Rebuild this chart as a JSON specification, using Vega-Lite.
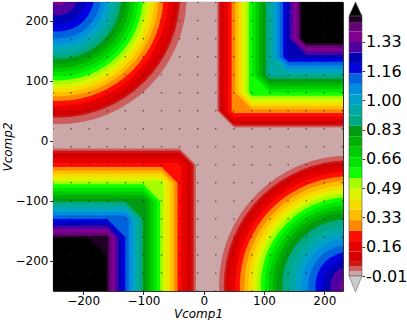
{
"$schema": "https://vega.github.io/schema/vega-lite/v6.json",
"padding": 0,
"spacing": 3,
"config": {"font": "DejaVu Sans", "view": {"stroke": null}, "axis": {"grid": false, "domain": false, "tickColor": "#000", "labelColor": "#000", "titleColor": "#000", "tickSize": 3.5, "tickWidth": 0.8, "labelFlush": false, "labelOverlap": false}, "axisY": {"labelOverlap": false}, "axisRight": {"labelOverlap": false}},
"datasets": {
"bg": [{"x": -250, "x2": 231, "y": -250, "y2": 231, "v": 0.0035}],
"q1": [
{"id":10,"v":0.03,"x":22.3,"y":50},{"id":10,"v":0.03,"x":50,"y":22.3},{"id":10,"v":0.03,"x":231,"y":22.3},
{"id":11,"v":0.057,"x":25.1,"y":50},{"id":11,"v":0.057,"x":50,"y":25.1},{"id":11,"v":0.057,"x":231,"y":25.1},
{"id":12,"v":0.10,"x":27.8,"y":50},{"id":12,"v":0.10,"x":50,"y":27.8},{"id":12,"v":0.10,"x":231,"y":27.8},
{"id":13,"v":0.16,"x":33.9,"y":50},{"id":13,"v":0.16,"x":50,"y":33.9},{"id":13,"v":0.16,"x":231,"y":33.9},
{"id":14,"v":0.22,"x":40.1,"y":50},{"id":14,"v":0.22,"x":50,"y":40.1},{"id":14,"v":0.22,"x":231,"y":40.1},
{"id":15,"v":0.28,"x":46.3,"y":50},{"id":15,"v":0.28,"x":50,"y":46.3},{"id":15,"v":0.28,"x":231,"y":46.3},
{"id":16,"v":0.34,"x":52.3,"y":80},{"id":16,"v":0.34,"x":80,"y":52.3},{"id":16,"v":0.34,"x":231,"y":52.3},
{"id":17,"v":0.40,"x":57.9,"y":80},{"id":17,"v":0.40,"x":80,"y":57.9},{"id":17,"v":0.40,"x":231,"y":57.9},
{"id":18,"v":0.46,"x":63.6,"y":80},{"id":18,"v":0.46,"x":80,"y":63.6},{"id":18,"v":0.46,"x":231,"y":63.6},
{"id":19,"v":0.52,"x":69.2,"y":80},{"id":19,"v":0.52,"x":80,"y":69.2},{"id":19,"v":0.52,"x":231,"y":69.2},
{"id":20,"v":0.58,"x":74.9,"y":80},{"id":20,"v":0.58,"x":80,"y":74.9},{"id":20,"v":0.58,"x":231,"y":74.9},
{"id":21,"v":0.64,"x":80.6,"y":110},{"id":21,"v":0.64,"x":110,"y":80.6},{"id":21,"v":0.64,"x":231,"y":80.6},
{"id":22,"v":0.70,"x":86.2,"y":110},{"id":22,"v":0.70,"x":110,"y":86.2},{"id":22,"v":0.70,"x":231,"y":86.2},
{"id":23,"v":0.76,"x":91.9,"y":110},{"id":23,"v":0.76,"x":110,"y":91.9},{"id":23,"v":0.76,"x":231,"y":91.9},
{"id":24,"v":0.82,"x":97.5,"y":110},{"id":24,"v":0.82,"x":110,"y":97.5},{"id":24,"v":0.82,"x":231,"y":97.5},
{"id":25,"v":0.88,"x":103.2,"y":110},{"id":25,"v":0.88,"x":110,"y":103.2},{"id":25,"v":0.88,"x":231,"y":103.2},
{"id":26,"v":0.94,"x":108.9,"y":110},{"id":26,"v":0.94,"x":110,"y":108.9},{"id":26,"v":0.94,"x":231,"y":108.9},
{"id":27,"v":1.00,"x":114.5,"y":140},{"id":27,"v":1.00,"x":140,"y":114.5},{"id":27,"v":1.00,"x":231,"y":114.5},
{"id":28,"v":1.06,"x":120.2,"y":140},{"id":28,"v":1.06,"x":140,"y":120.2},{"id":28,"v":1.06,"x":231,"y":120.2},
{"id":29,"v":1.12,"x":125.8,"y":140},{"id":29,"v":1.12,"x":140,"y":125.8},{"id":29,"v":1.12,"x":231,"y":125.8},
{"id":30,"v":1.18,"x":131.5,"y":140},{"id":30,"v":1.18,"x":140,"y":131.5},{"id":30,"v":1.18,"x":231,"y":131.5},
{"id":31,"v":1.24,"x":137.2,"y":140},{"id":31,"v":1.24,"x":140,"y":137.2},{"id":31,"v":1.24,"x":231,"y":137.2},
{"id":32,"v":1.30,"x":142.8,"y":170},{"id":32,"v":1.30,"x":170,"y":142.8},{"id":32,"v":1.30,"x":231,"y":142.8},
{"id":33,"v":1.36,"x":148.5,"y":170},{"id":33,"v":1.36,"x":170,"y":148.5},{"id":33,"v":1.36,"x":231,"y":148.5},
{"id":34,"v":1.415,"x":154.2,"y":170},{"id":34,"v":1.415,"x":170,"y":154.2},{"id":34,"v":1.415,"x":231,"y":154.2},
{"id":35,"v":1.46,"x":158.9,"y":170},{"id":35,"v":1.46,"x":170,"y":158.9},{"id":35,"v":1.46,"x":231,"y":158.9},
{"id":36,"v":1.5,"x":162.6,"y":170},{"id":36,"v":1.5,"x":170,"y":162.6},{"id":36,"v":1.5,"x":231,"y":162.6}
],
"q3": [
{"id":10,"v":0.03,"x":-250,"y":-13},{"id":10,"v":0.03,"x":-40,"y":-13},{"id":10,"v":0.03,"x":-13,"y":-40},
{"id":11,"v":0.057,"x":-250,"y":-16.7},{"id":11,"v":0.057,"x":-40,"y":-16.7},{"id":11,"v":0.057,"x":-16.7,"y":-40},
{"id":12,"v":0.10,"x":-250,"y":-20.5},{"id":12,"v":0.10,"x":-40,"y":-20.5},{"id":12,"v":0.10,"x":-20.5,"y":-40},
{"id":13,"v":0.16,"x":-250,"y":-28.6},{"id":13,"v":0.16,"x":-40,"y":-28.6},{"id":13,"v":0.16,"x":-28.6,"y":-40},
{"id":14,"v":0.22,"x":-250,"y":-36.8},{"id":14,"v":0.22,"x":-40,"y":-36.8},{"id":14,"v":0.22,"x":-36.8,"y":-40},
{"id":15,"v":0.28,"x":-250,"y":-43.6},{"id":15,"v":0.28,"x":-70,"y":-43.6},{"id":15,"v":0.28,"x":-43.6,"y":-70},
{"id":16,"v":0.34,"x":-250,"y":-49.3},{"id":16,"v":0.34,"x":-70,"y":-49.3},{"id":16,"v":0.34,"x":-49.3,"y":-70},
{"id":17,"v":0.40,"x":-250,"y":-55.1},{"id":17,"v":0.40,"x":-70,"y":-55.1},{"id":17,"v":0.40,"x":-55.1,"y":-70},
{"id":18,"v":0.46,"x":-250,"y":-60.9},{"id":18,"v":0.46,"x":-70,"y":-60.9},{"id":18,"v":0.46,"x":-60.9,"y":-70},
{"id":19,"v":0.52,"x":-250,"y":-66.6},{"id":19,"v":0.52,"x":-70,"y":-66.6},{"id":19,"v":0.52,"x":-66.6,"y":-70},
{"id":20,"v":0.58,"x":-250,"y":-72.4},{"id":20,"v":0.58,"x":-100,"y":-72.4},{"id":20,"v":0.58,"x":-72.4,"y":-100},
{"id":21,"v":0.64,"x":-250,"y":-78.2},{"id":21,"v":0.64,"x":-100,"y":-78.2},{"id":21,"v":0.64,"x":-78.2,"y":-100},
{"id":22,"v":0.70,"x":-250,"y":-83.9},{"id":22,"v":0.70,"x":-100,"y":-83.9},{"id":22,"v":0.70,"x":-83.9,"y":-100},
{"id":23,"v":0.76,"x":-250,"y":-89.7},{"id":23,"v":0.76,"x":-100,"y":-89.7},{"id":23,"v":0.76,"x":-89.7,"y":-100},
{"id":24,"v":0.82,"x":-250,"y":-95.5},{"id":24,"v":0.82,"x":-100,"y":-95.5},{"id":24,"v":0.82,"x":-95.5,"y":-100},
{"id":25,"v":0.88,"x":-250,"y":-101.3},{"id":25,"v":0.88,"x":-130,"y":-101.3},{"id":25,"v":0.88,"x":-101.3,"y":-130},
{"id":26,"v":0.94,"x":-250,"y":-107},{"id":26,"v":0.94,"x":-130,"y":-107},{"id":26,"v":0.94,"x":-107,"y":-130},
{"id":27,"v":1.00,"x":-250,"y":-112.8},{"id":27,"v":1.00,"x":-130,"y":-112.8},{"id":27,"v":1.00,"x":-112.8,"y":-130},
{"id":28,"v":1.06,"x":-250,"y":-118.6},{"id":28,"v":1.06,"x":-130,"y":-118.6},{"id":28,"v":1.06,"x":-118.6,"y":-130},
{"id":29,"v":1.12,"x":-250,"y":-124.3},{"id":29,"v":1.12,"x":-130,"y":-124.3},{"id":29,"v":1.12,"x":-124.3,"y":-130},
{"id":30,"v":1.18,"x":-250,"y":-130.1},{"id":30,"v":1.18,"x":-160,"y":-130.1},{"id":30,"v":1.18,"x":-130.1,"y":-160},
{"id":31,"v":1.24,"x":-250,"y":-135.9},{"id":31,"v":1.24,"x":-160,"y":-135.9},{"id":31,"v":1.24,"x":-135.9,"y":-160},
{"id":32,"v":1.30,"x":-250,"y":-141.6},{"id":32,"v":1.30,"x":-160,"y":-141.6},{"id":32,"v":1.30,"x":-141.6,"y":-160},
{"id":33,"v":1.36,"x":-250,"y":-147.4},{"id":33,"v":1.36,"x":-160,"y":-147.4},{"id":33,"v":1.36,"x":-147.4,"y":-160},
{"id":34,"v":1.415,"x":-250,"y":-153.2},{"id":34,"v":1.415,"x":-160,"y":-153.2},{"id":34,"v":1.415,"x":-153.2,"y":-160},
{"id":35,"v":1.46,"x":-250,"y":-158},{"id":35,"v":1.46,"x":-160,"y":-158},{"id":35,"v":1.46,"x":-158,"y":-160},
{"id":36,"v":1.5,"x":-250,"y":-161.8},{"id":36,"v":1.5,"x":-190,"y":-161.8},{"id":36,"v":1.5,"x":-161.8,"y":-190}
],
"arcs": [
{"cx":-241,"cy":241,"r":213,"v":0.03},{"cx":-241,"cy":241,"r":202,"v":0.057},{"cx":-241,"cy":241,"r":198.4,"v":0.10},{"cx":-241,"cy":241,"r":190.4,"v":0.16},{"cx":-241,"cy":241,"r":182.4,"v":0.22},{"cx":-241,"cy":241,"r":174.3,"v":0.28},{"cx":-241,"cy":241,"r":166.6,"v":0.34},{"cx":-241,"cy":241,"r":160.1,"v":0.40},{"cx":-241,"cy":241,"r":153.6,"v":0.46},{"cx":-241,"cy":241,"r":147.2,"v":0.52},{"cx":-241,"cy":241,"r":140.3,"v":0.58},{"cx":-241,"cy":241,"r":133.3,"v":0.64},{"cx":-241,"cy":241,"r":126.3,"v":0.70},{"cx":-241,"cy":241,"r":119.3,"v":0.76},{"cx":-241,"cy":241,"r":112.3,"v":0.82},{"cx":-241,"cy":241,"r":104.4,"v":0.88},{"cx":-241,"cy":241,"r":96,"v":0.94},{"cx":-241,"cy":241,"r":87.6,"v":1.00},{"cx":-241,"cy":241,"r":79.2,"v":1.06},{"cx":-241,"cy":241,"r":70.8,"v":1.12},{"cx":-241,"cy":241,"r":59.1,"v":1.18},{"cx":-241,"cy":241,"r":45.8,"v":1.24},{"cx":-241,"cy":241,"r":32.4,"v":1.30},{"cx":-241,"cy":241,"r":15.6,"v":1.36},
{"cx":241,"cy":-241,"r":216,"v":0.03},{"cx":241,"cy":-241,"r":208,"v":0.057},{"cx":241,"cy":-241,"r":204.5,"v":0.10},{"cx":241,"cy":-241,"r":196.9,"v":0.16},{"cx":241,"cy":-241,"r":189.2,"v":0.22},{"cx":241,"cy":-241,"r":181.4,"v":0.28},{"cx":241,"cy":-241,"r":173.9,"v":0.34},{"cx":241,"cy":-241,"r":167,"v":0.40},{"cx":241,"cy":-241,"r":160.1,"v":0.46},{"cx":241,"cy":-241,"r":153.3,"v":0.52},{"cx":241,"cy":-241,"r":146.6,"v":0.58},{"cx":241,"cy":-241,"r":140,"v":0.64},{"cx":241,"cy":-241,"r":133.4,"v":0.70},{"cx":241,"cy":-241,"r":126.8,"v":0.76},{"cx":241,"cy":-241,"r":120.2,"v":0.82},{"cx":241,"cy":-241,"r":110.8,"v":0.88},{"cx":241,"cy":-241,"r":100,"v":0.94},{"cx":241,"cy":-241,"r":89.2,"v":1.00},{"cx":241,"cy":-241,"r":78.4,"v":1.06},{"cx":241,"cy":-241,"r":67.6,"v":1.12},{"cx":241,"cy":-241,"r":55.8,"v":1.18},{"cx":241,"cy":-241,"r":43.5,"v":1.24},{"cx":241,"cy":-241,"r":31.1,"v":1.30},{"cx":241,"cy":-241,"r":15,"v":1.36}
],
"dots": [
{"gx":-250,"gy":-250},{"gx":-220,"gy":-250},{"gx":-190,"gy":-250},{"gx":-160,"gy":-250},{"gx":-130,"gy":-250},{"gx":-100,"gy":-250},{"gx":-70,"gy":-250},{"gx":-40,"gy":-250},{"gx":-10,"gy":-250},{"gx":20,"gy":-250},{"gx":50,"gy":-250},{"gx":80,"gy":-250},{"gx":110,"gy":-250},{"gx":140,"gy":-250},{"gx":170,"gy":-250},{"gx":200,"gy":-250},{"gx":230,"gy":-250},
{"gx":-250,"gy":-220},{"gx":-220,"gy":-220},{"gx":-190,"gy":-220},{"gx":-160,"gy":-220},{"gx":-130,"gy":-220},{"gx":-100,"gy":-220},{"gx":-70,"gy":-220},{"gx":-40,"gy":-220},{"gx":-10,"gy":-220},{"gx":20,"gy":-220},{"gx":50,"gy":-220},{"gx":80,"gy":-220},{"gx":110,"gy":-220},{"gx":140,"gy":-220},{"gx":170,"gy":-220},{"gx":200,"gy":-220},{"gx":230,"gy":-220},
{"gx":-250,"gy":-190},{"gx":-220,"gy":-190},{"gx":-190,"gy":-190},{"gx":-160,"gy":-190},{"gx":-130,"gy":-190},{"gx":-100,"gy":-190},{"gx":-70,"gy":-190},{"gx":-40,"gy":-190},{"gx":-10,"gy":-190},{"gx":20,"gy":-190},{"gx":50,"gy":-190},{"gx":80,"gy":-190},{"gx":110,"gy":-190},{"gx":140,"gy":-190},{"gx":170,"gy":-190},{"gx":200,"gy":-190},{"gx":230,"gy":-190},
{"gx":-250,"gy":-160},{"gx":-220,"gy":-160},{"gx":-190,"gy":-160},{"gx":-160,"gy":-160},{"gx":-130,"gy":-160},{"gx":-100,"gy":-160},{"gx":-70,"gy":-160},{"gx":-40,"gy":-160},{"gx":-10,"gy":-160},{"gx":20,"gy":-160},{"gx":50,"gy":-160},{"gx":80,"gy":-160},{"gx":110,"gy":-160},{"gx":140,"gy":-160},{"gx":170,"gy":-160},{"gx":200,"gy":-160},{"gx":230,"gy":-160},
{"gx":-250,"gy":-130},{"gx":-220,"gy":-130},{"gx":-190,"gy":-130},{"gx":-160,"gy":-130},{"gx":-130,"gy":-130},{"gx":-100,"gy":-130},{"gx":-70,"gy":-130},{"gx":-40,"gy":-130},{"gx":-10,"gy":-130},{"gx":20,"gy":-130},{"gx":50,"gy":-130},{"gx":80,"gy":-130},{"gx":110,"gy":-130},{"gx":140,"gy":-130},{"gx":170,"gy":-130},{"gx":200,"gy":-130},{"gx":230,"gy":-130},
{"gx":-250,"gy":-100},{"gx":-220,"gy":-100},{"gx":-190,"gy":-100},{"gx":-160,"gy":-100},{"gx":-130,"gy":-100},{"gx":-100,"gy":-100},{"gx":-70,"gy":-100},{"gx":-40,"gy":-100},{"gx":-10,"gy":-100},{"gx":20,"gy":-100},{"gx":50,"gy":-100},{"gx":80,"gy":-100},{"gx":110,"gy":-100},{"gx":140,"gy":-100},{"gx":170,"gy":-100},{"gx":200,"gy":-100},{"gx":230,"gy":-100},
{"gx":-250,"gy":-70},{"gx":-220,"gy":-70},{"gx":-190,"gy":-70},{"gx":-160,"gy":-70},{"gx":-130,"gy":-70},{"gx":-100,"gy":-70},{"gx":-70,"gy":-70},{"gx":-40,"gy":-70},{"gx":-10,"gy":-70},{"gx":20,"gy":-70},{"gx":50,"gy":-70},{"gx":80,"gy":-70},{"gx":110,"gy":-70},{"gx":140,"gy":-70},{"gx":170,"gy":-70},{"gx":200,"gy":-70},{"gx":230,"gy":-70},
{"gx":-250,"gy":-40},{"gx":-220,"gy":-40},{"gx":-190,"gy":-40},{"gx":-160,"gy":-40},{"gx":-130,"gy":-40},{"gx":-100,"gy":-40},{"gx":-70,"gy":-40},{"gx":-40,"gy":-40},{"gx":-10,"gy":-40},{"gx":20,"gy":-40},{"gx":50,"gy":-40},{"gx":80,"gy":-40},{"gx":110,"gy":-40},{"gx":140,"gy":-40},{"gx":170,"gy":-40},{"gx":200,"gy":-40},{"gx":230,"gy":-40},
{"gx":-250,"gy":-10},{"gx":-220,"gy":-10},{"gx":-190,"gy":-10},{"gx":-160,"gy":-10},{"gx":-130,"gy":-10},{"gx":-100,"gy":-10},{"gx":-70,"gy":-10},{"gx":-40,"gy":-10},{"gx":-10,"gy":-10},{"gx":20,"gy":-10},{"gx":50,"gy":-10},{"gx":80,"gy":-10},{"gx":110,"gy":-10},{"gx":140,"gy":-10},{"gx":170,"gy":-10},{"gx":200,"gy":-10},{"gx":230,"gy":-10},
{"gx":-250,"gy":20},{"gx":-220,"gy":20},{"gx":-190,"gy":20},{"gx":-160,"gy":20},{"gx":-130,"gy":20},{"gx":-100,"gy":20},{"gx":-70,"gy":20},{"gx":-40,"gy":20},{"gx":-10,"gy":20},{"gx":20,"gy":20},{"gx":50,"gy":20},{"gx":80,"gy":20},{"gx":110,"gy":20},{"gx":140,"gy":20},{"gx":170,"gy":20},{"gx":200,"gy":20},{"gx":230,"gy":20},
{"gx":-250,"gy":50},{"gx":-220,"gy":50},{"gx":-190,"gy":50},{"gx":-160,"gy":50},{"gx":-130,"gy":50},{"gx":-100,"gy":50},{"gx":-70,"gy":50},{"gx":-40,"gy":50},{"gx":-10,"gy":50},{"gx":20,"gy":50},{"gx":50,"gy":50},{"gx":80,"gy":50},{"gx":110,"gy":50},{"gx":140,"gy":50},{"gx":170,"gy":50},{"gx":200,"gy":50},{"gx":230,"gy":50},
{"gx":-250,"gy":80},{"gx":-220,"gy":80},{"gx":-190,"gy":80},{"gx":-160,"gy":80},{"gx":-130,"gy":80},{"gx":-100,"gy":80},{"gx":-70,"gy":80},{"gx":-40,"gy":80},{"gx":-10,"gy":80},{"gx":20,"gy":80},{"gx":50,"gy":80},{"gx":80,"gy":80},{"gx":110,"gy":80},{"gx":140,"gy":80},{"gx":170,"gy":80},{"gx":200,"gy":80},{"gx":230,"gy":80},
{"gx":-250,"gy":110},{"gx":-220,"gy":110},{"gx":-190,"gy":110},{"gx":-160,"gy":110},{"gx":-130,"gy":110},{"gx":-100,"gy":110},{"gx":-70,"gy":110},{"gx":-40,"gy":110},{"gx":-10,"gy":110},{"gx":20,"gy":110},{"gx":50,"gy":110},{"gx":80,"gy":110},{"gx":110,"gy":110},{"gx":140,"gy":110},{"gx":170,"gy":110},{"gx":200,"gy":110},{"gx":230,"gy":110},
{"gx":-250,"gy":140},{"gx":-220,"gy":140},{"gx":-190,"gy":140},{"gx":-160,"gy":140},{"gx":-130,"gy":140},{"gx":-100,"gy":140},{"gx":-70,"gy":140},{"gx":-40,"gy":140},{"gx":-10,"gy":140},{"gx":20,"gy":140},{"gx":50,"gy":140},{"gx":80,"gy":140},{"gx":110,"gy":140},{"gx":140,"gy":140},{"gx":170,"gy":140},{"gx":200,"gy":140},{"gx":230,"gy":140},
{"gx":-250,"gy":170},{"gx":-220,"gy":170},{"gx":-190,"gy":170},{"gx":-160,"gy":170},{"gx":-130,"gy":170},{"gx":-100,"gy":170},{"gx":-70,"gy":170},{"gx":-40,"gy":170},{"gx":-10,"gy":170},{"gx":20,"gy":170},{"gx":50,"gy":170},{"gx":80,"gy":170},{"gx":110,"gy":170},{"gx":140,"gy":170},{"gx":170,"gy":170},{"gx":200,"gy":170},{"gx":230,"gy":170},
{"gx":-250,"gy":200},{"gx":-220,"gy":200},{"gx":-190,"gy":200},{"gx":-160,"gy":200},{"gx":-130,"gy":200},{"gx":-100,"gy":200},{"gx":-70,"gy":200},{"gx":-40,"gy":200},{"gx":-10,"gy":200},{"gx":20,"gy":200},{"gx":50,"gy":200},{"gx":80,"gy":200},{"gx":110,"gy":200},{"gx":140,"gy":200},{"gx":170,"gy":200},{"gx":200,"gy":200},{"gx":230,"gy":200},
{"gx":-250,"gy":230},{"gx":-220,"gy":230},{"gx":-190,"gy":230},{"gx":-160,"gy":230},{"gx":-130,"gy":230},{"gx":-100,"gy":230},{"gx":-70,"gy":230},{"gx":-40,"gy":230},{"gx":-10,"gy":230},{"gx":20,"gy":230},{"gx":50,"gy":230},{"gx":80,"gy":230},{"gx":110,"gy":230},{"gx":140,"gy":230},{"gx":170,"gy":230},{"gx":200,"gy":230},{"gx":230,"gy":230}
],
"bands": [
{"lo":-0.01,"hi":0.017,"v":0.0035},{"lo":0.017,"hi":0.044,"v":0.03},{"lo":0.044,"hi":0.071,"v":0.057},{"lo":0.071,"hi":0.13,"v":0.10},{"lo":0.13,"hi":0.19,"v":0.16},{"lo":0.19,"hi":0.25,"v":0.22},{"lo":0.25,"hi":0.31,"v":0.28},{"lo":0.31,"hi":0.37,"v":0.34},{"lo":0.37,"hi":0.43,"v":0.40},{"lo":0.43,"hi":0.49,"v":0.46},{"lo":0.49,"hi":0.55,"v":0.52},{"lo":0.55,"hi":0.61,"v":0.58},{"lo":0.61,"hi":0.67,"v":0.64},{"lo":0.67,"hi":0.73,"v":0.70},{"lo":0.73,"hi":0.79,"v":0.76},{"lo":0.79,"hi":0.85,"v":0.82},{"lo":0.85,"hi":0.91,"v":0.88},{"lo":0.91,"hi":0.97,"v":0.94},{"lo":0.97,"hi":1.03,"v":1.00},{"lo":1.03,"hi":1.09,"v":1.06},{"lo":1.09,"hi":1.15,"v":1.12},{"lo":1.15,"hi":1.21,"v":1.18},{"lo":1.21,"hi":1.27,"v":1.24},{"lo":1.27,"hi":1.33,"v":1.30},{"lo":1.33,"hi":1.39,"v":1.36},{"lo":1.39,"hi":1.44,"v":1.415},{"lo":1.44,"hi":1.48,"v":1.46}
],
"ends": [{"pos":1.5195,"v":1.5,"dir":"up"},{"pos":-0.0558,"v":-0.05,"dir":"down"}],
"frame": [{"lo":-0.01,"hi":1.48}]
},
"hconcat": [
{
"width": 290, "height": 289,
"view": {"stroke": "#000", "strokeWidth": 0.9},
"layer": [
{"data": {"name": "bg"}, "mark": {"type": "rect"},
 "encoding": {
  "x": {"field": "x", "type": "quantitative", "scale": {"domain": [-250, 231], "nice": false, "zero": false},
        "axis": {"values": [-200, -100, 0, 100, 200], "title": "Vcomp1", "labelFontSize": 12, "titleFontSize": 12, "titleFontStyle": "italic", "titleFontWeight": "normal", "labelPadding": 0.5, "titlePadding": 2.5}},
  "x2": {"field": "x2"},
  "y": {"field": "y", "type": "quantitative", "scale": {"domain": [-250, 231], "nice": false, "zero": false},
        "axis": {"values": [-200, -100, 0, 100, 200], "title": "Vcomp2", "labelFontSize": 12, "titleFontSize": 12, "titleFontStyle": "italic", "titleFontWeight": "normal", "labelPadding": 1.5, "titlePadding": 1}},
  "y2": {"field": "y2"},
  "color": {"field": "v", "type": "quantitative", "legend": null,
   "scale": {"type": "linear", "interpolate": "rgb", "clamp": true,
    "domain": [-0.01, 0.0645, 0.139, 0.2135, 0.288, 0.3625, 0.437, 0.5115, 0.586, 0.6605, 0.735, 0.8095, 0.884, 0.9585, 1.033, 1.1075, 1.182, 1.2565, 1.331, 1.4055, 1.48],
    "range": ["#cccccc", "#cc0000", "#dd0000", "#ff0000", "#ff9900", "#ffcc00", "#eeee00", "#bbff00", "#00ff00", "#00dd00", "#00bb00", "#009900", "#00aa88", "#00aaaa", "#0099dd", "#0077dd", "#0000dd", "#0000aa", "#880099", "#770088", "#000000"]}}
 }},
{"data": {"name": "q1"}, "mark": {"type": "area", "orient": "vertical", "interpolate": "linear"},
 "encoding": {
  "x": {"field": "x", "type": "quantitative", "scale": {"domain": [-250, 231], "nice": false, "zero": false}},
  "y": {"field": "y", "type": "quantitative", "scale": {"domain": [-250, 231], "nice": false, "zero": false}, "stack": null},
  "y2": {"datum": 231},
  "detail": {"field": "id", "type": "nominal"},
  "color": {"field": "v", "type": "quantitative", "legend": null}
 }},
{"data": {"name": "q3"}, "mark": {"type": "area", "orient": "vertical", "interpolate": "linear"},
 "encoding": {
  "x": {"field": "x", "type": "quantitative", "scale": {"domain": [-250, 231], "nice": false, "zero": false}},
  "y": {"field": "y", "type": "quantitative", "scale": {"domain": [-250, 231], "nice": false, "zero": false}, "stack": null},
  "y2": {"datum": -250},
  "detail": {"field": "id", "type": "nominal"},
  "color": {"field": "v", "type": "quantitative", "legend": null}
 }},
{"data": {"name": "arcs"}, "mark": {"type": "arc", "clip": true, "theta": 0, "theta2": 6.2832},
 "encoding": {
  "x": {"field": "cx", "type": "quantitative", "scale": {"domain": [-250, 231], "nice": false, "zero": false}},
  "y": {"field": "cy", "type": "quantitative", "scale": {"domain": [-250, 231], "nice": false, "zero": false}},
  "radius": {"field": "r", "type": "quantitative", "stack": null, "scale": {"type": "linear", "domain": [0, 100], "range": [0, 60.2], "zero": true}},
  "color": {"field": "v", "type": "quantitative", "legend": null}
 }},
{"data": {"name": "dots"}, "mark": {"type": "point", "filled": true, "size": 2.2, "color": "#222", "opacity": 0.8, "clip": true},
 "encoding": {
  "x": {"field": "gx", "type": "quantitative", "scale": {"domain": [-250, 231], "nice": false, "zero": false}},
  "y": {"field": "gy", "type": "quantitative", "scale": {"domain": [-250, 231], "nice": false, "zero": false}}
 }}
]
},
{
"width": 13, "height": 290,
"layer": [
{"data": {"name": "bands"}, "mark": {"type": "rect"},
 "encoding": {
  "y": {"field": "lo", "type": "quantitative", "scale": {"domain": [-0.1016, 1.559], "nice": false, "zero": false},
        "axis": {"orient": "right", "values": [-0.01, 0.1575, 0.3251, 0.4925, 0.66, 0.8275, 0.9951, 1.1625, 1.33], "labelExpr": "replace(format(datum.value, '.2f'), '\u2212', '-')", "title": null, "tickSize": 2.5, "labelPadding": 1, "labelFontSize": 16, "labelOverlap": false, "labelSeparation": 0, "labelBound": false}},
  "y2": {"field": "hi"},
  "color": {"field": "v", "type": "quantitative", "legend": null}
 }},
{"data": {"name": "frame"}, "mark": {"type": "rect", "filled": false, "stroke": "#555", "strokeWidth": 0.6},
 "encoding": {
  "y": {"field": "lo", "type": "quantitative", "scale": {"domain": [-0.1016, 1.559], "nice": false, "zero": false},
        "axis": {"orient": "right", "values": [-0.01, 0.1575, 0.3251, 0.4925, 0.66, 0.8275, 0.9951, 1.1625, 1.33], "labelExpr": "replace(format(datum.value, '.2f'), '\u2212', '-')", "title": null, "tickSize": 2.5, "labelPadding": 1, "labelFontSize": 16, "labelOverlap": false, "labelSeparation": 0, "labelBound": false}},
  "y2": {"field": "hi"}
 }},
{"data": {"name": "ends"}, "mark": {"type": "point", "filled": true, "size": 169, "opacity": 1, "stroke": "#666", "strokeWidth": 0.6},
 "encoding": {
  "y": {"field": "pos", "type": "quantitative", "scale": {"domain": [-0.1016, 1.559], "nice": false, "zero": false},
        "axis": {"orient": "right", "values": [-0.01, 0.1575, 0.3251, 0.4925, 0.66, 0.8275, 0.9951, 1.1625, 1.33], "labelExpr": "replace(format(datum.value, '.2f'), '\u2212', '-')", "title": null, "tickSize": 2.5, "labelPadding": 1, "labelFontSize": 16, "labelOverlap": false, "labelSeparation": 0, "labelBound": false}},
  "shape": {"field": "dir", "type": "nominal", "legend": null, "scale": {"domain": ["up", "down"], "range": ["M-1,1.08L1,1.08L0,-1.08Z", "M-1,-1.23L1,-1.23L0,1.23Z"]}},
  "color": {"field": "v", "type": "quantitative", "legend": null}
 }}
]
}
]
}
